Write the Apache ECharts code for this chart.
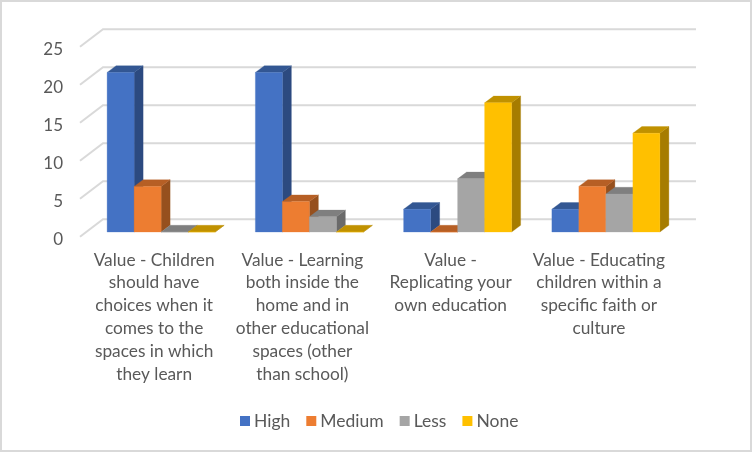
<!DOCTYPE html>
<html><head><meta charset="utf-8">
<style>html,body{margin:0;padding:0;background:#fff}#c{width:752px;height:452px}</style>
<script src="https://cdn.jsdelivr.net/npm/echarts@6/dist/echarts.min.js"></script>
</head><body><div id="c"></div>
<script>
const categories = [
  "Value - Children\nshould have\nchoices when it\ncomes to the\nspaces in which\nthey learn",
  "Value - Learning\nboth inside the\nhome and in\nother educational\nspaces (other\nthan school)",
  "Value -\nReplicating your\nown education",
  "Value - Educating\nchildren within a\nspecific faith or\nculture"
];
const high = [21, 21, 3, 3];
const medium = [6, 4, 0, 6];
const less = [0, 2, 7, 5];
const none = [0, 0, 17, 13];
const yTicks = [0, 5, 10, 15, 20, 25];

const FONT = 'Lato';
const TEXT = '#595959';
const WALL_DX = 23, WALL_DY = 17.4;
const BAR_OFF_X = 7, BAR_OFF_Y = 4.7;
const DEPTH_X = 9, DEPTH_Y = 6.7;
const BAR_RATIO = 27 / 148.25;

const chart = echarts.init(document.getElementById('c'));

function poly(points, fill) {
  return { type: 'polygon', shape: { points }, style: { fill, stroke: fill, lineWidth: 0.3 } };
}
function bar3d(index, front, side, top) {
  const count = 4;
  return function (params, api) {
    const cat = api.value(0), val = api.value(1);
    const p = api.coord([cat, val]);
    const p0 = api.coord([cat, 0]);
    const w = api.size([1, 0])[0] * BAR_RATIO;
    const xl = p[0] + BAR_OFF_X + (index - count / 2) * w;
    const xr = xl + w;
    const yt = p[1] - BAR_OFF_Y;
    const yb = p0[1] - BAR_OFF_Y;
    const dx = DEPTH_X, dy = DEPTH_Y;
    return { type: 'group', children: [
      poly([[xr, yt], [xr + dx, yt - dy], [xr + dx, yb - dy], [xr, yb]], side),
      poly([[xl, yt], [xr, yt], [xr + dx, yt - dy], [xl + dx, yt - dy]], top),
      poly([[xl, yt], [xr, yt], [xr, yb], [xl, yb]], front)
    ] };
  };
}
function barSeries(name, values, index, front, side, top) {
  return {
    name, type: 'custom', z: 3 + index,
    renderItem: bar3d(index, front, side, top),
    encode: { x: 0, y: 1 },
    itemStyle: { color: front },
    data: values.map((v, i) => [i, v]),
    animation: false
  };
}

chart.setOption({
  animation: false,
  backgroundColor: '#fff',
  color: ['#4472C4', '#ED7D31', '#A5A5A5', '#FFC000'],
  graphic: [{ type: 'rect', shape: { x: 1, y: 1, width: 750, height: 450 },
    style: { fill: 'none', stroke: '#D9D9D9', lineWidth: 2 }, silent: true, z: 100 }],
  grid: { left: 80, top: 46.7, width: 593, height: 190 },
  legend: {
    left: 240, top: 412, padding: 0, itemWidth: 10, itemHeight: 10, itemGap: 16,
    icon: 'rect', selectedMode: false,
    data: ['High', 'Medium', 'Less', 'None'],
    textStyle: { fontFamily: FONT, fontSize: 17.5, color: TEXT, padding: [0, 0, 0, -1] }
  },
  xAxis: {
    type: 'category', data: categories, boundaryGap: true,
    axisLine: { show: false }, axisTick: { show: false }, splitLine: { show: false },
    axisLabel: { interval: 0, fontFamily: FONT, fontSize: 17.3, color: TEXT, lineHeight: 22.8, margin: 12 }
  },
  yAxis: {
    type: 'value', min: 0, max: 25, interval: 5,
    axisLine: { show: false }, axisTick: { show: false }, splitLine: { show: false },
    axisLabel: {
      formatter: '{v|{value}}', margin: 17,
      rich: { v: { fontFamily: FONT, fontSize: 17, color: TEXT, padding: [5, 0, 0, 0] } }
    }
  },
  series: [
    {
      name: 'wall', type: 'custom', z: 1, silent: true,
      coordinateSystem: 'cartesian2d',
      encode: { x: 0, y: 1 },
      renderItem(params, api) {
        const p = api.coord([0, api.value(1)]);
        const band = api.size([1, 0])[0];
        const x0 = p[0] - band / 2, x1 = x0 + band * categories.length;
        return { type: 'polyline',
          shape: { points: [[x0, p[1]], [x0 + WALL_DX, p[1] - WALL_DY], [x1 + WALL_DX, p[1] - WALL_DY]] },
          style: { fill: 'none', stroke: '#D9D9D9', lineWidth: 2 } };
      },
      data: yTicks.map(v => [0, v])
    },
    barSeries('High', high, 0, '#4472C4', '#2C4A80', '#335793'),
    barSeries('Medium', medium, 1, '#ED7D31', '#96501E', '#B65F25'),
    barSeries('Less', less, 2, '#A5A5A5', '#6A6A6A', '#7F7F7F'),
    barSeries('None', none, 3, '#FFC000', '#A67C00', '#C09100')
  ]
});
</script></body></html>
